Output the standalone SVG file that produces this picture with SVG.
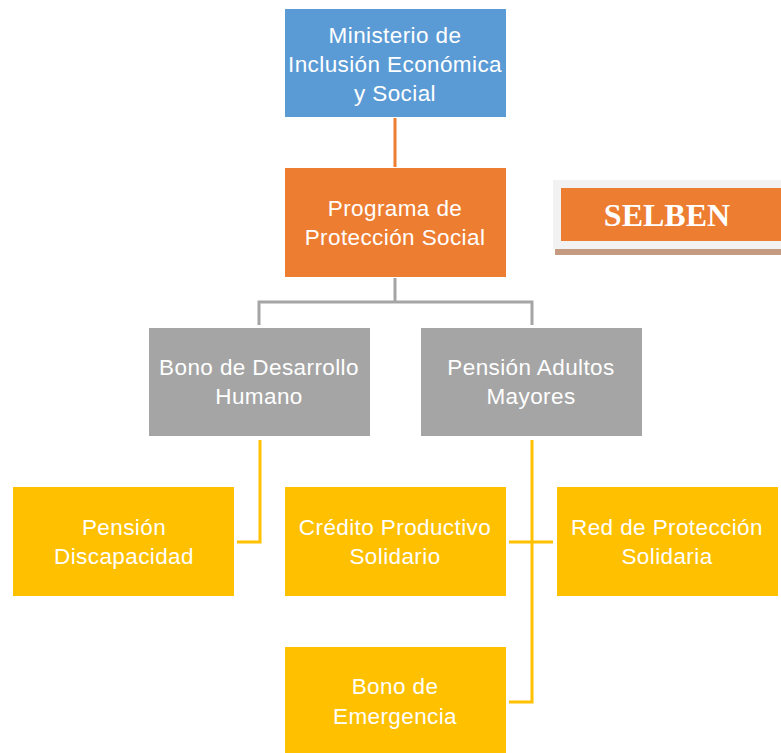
<svg xmlns="http://www.w3.org/2000/svg" width="781" height="753" viewBox="0 0 781 753">
<style>
.t{font-family:"Liberation Sans",Arial,sans-serif;font-size:22.5px;letter-spacing:0.4px;fill:#fff;text-anchor:middle}
.bx{stroke:#fff;stroke-width:1}
.c{fill:none;stroke-width:3}
</style>
<rect width="781" height="753" fill="#fff"/>
<g id="connectors">
<path class="c" stroke="#ED7D31" d="M395 117V168"/>
<path class="c" stroke="#A5A5A5" d="M395 277V302M259 325V302H532V325"/>
<path class="c" stroke="#FFC000" d="M260 440V542H237"/>
<path class="c" stroke="#FFC000" d="M532 440V702H509M509 542H553"/>
</g>
<g id="n-ministerio"><rect class="bx" x="284.5" y="8.5" width="222" height="109" fill="#5B9BD5"/>
<text class="t" x="395" y="43">Ministerio de</text><text class="t" x="395" y="72">Inclusión Económica</text><text class="t" x="395" y="101">y Social</text></g>
<g id="n-programa"><rect class="bx" x="284.5" y="167.5" width="222" height="110" fill="#ED7D31"/>
<text class="t" x="395" y="216">Programa de</text><text class="t" x="395" y="245">Protección Social</text></g>
<g id="n-selben"><rect x="553" y="180" width="228" height="69" fill="#F2F2F2"/><rect x="555" y="249" width="226" height="6" fill="#C49A80"/><rect x="561" y="188" width="220" height="53" fill="#ED7D31"/>
<text x="667" y="226" font-family="Liberation Serif,Times New Roman,serif" font-weight="bold" font-size="32" fill="#fff" text-anchor="middle">SELBEN</text></g>
<g id="n-bono-dh"><rect class="bx" x="148.5" y="327.5" width="222" height="109" fill="#A5A5A5"/>
<text class="t" x="259" y="375">Bono de Desarrollo</text><text class="t" x="259" y="404">Humano</text></g>
<g id="n-pension-am"><rect class="bx" x="420.5" y="327.5" width="222" height="109" fill="#A5A5A5"/>
<text class="t" x="531" y="375">Pensión Adultos</text><text class="t" x="531" y="404">Mayores</text></g>
<g id="n-discapacidad"><rect class="bx" x="12.5" y="486.5" width="222" height="110" fill="#FFC000"/>
<text class="t" x="124" y="535">Pensión</text><text class="t" x="124" y="564">Discapacidad</text></g>
<g id="n-credito"><rect class="bx" x="284.5" y="486.5" width="222" height="110" fill="#FFC000"/>
<text class="t" x="395" y="535">Crédito Productivo</text><text class="t" x="395" y="564">Solidario</text></g>
<g id="n-red"><rect class="bx" x="556.5" y="486.5" width="222" height="110" fill="#FFC000"/>
<text class="t" x="667" y="535">Red de Protección</text><text class="t" x="667" y="564">Solidaria</text></g>
<g id="n-emergencia"><rect class="bx" x="284.5" y="646.5" width="222" height="110" fill="#FFC000"/>
<text class="t" x="395" y="694">Bono de</text><text class="t" x="395" y="724">Emergencia</text></g>
</svg>
